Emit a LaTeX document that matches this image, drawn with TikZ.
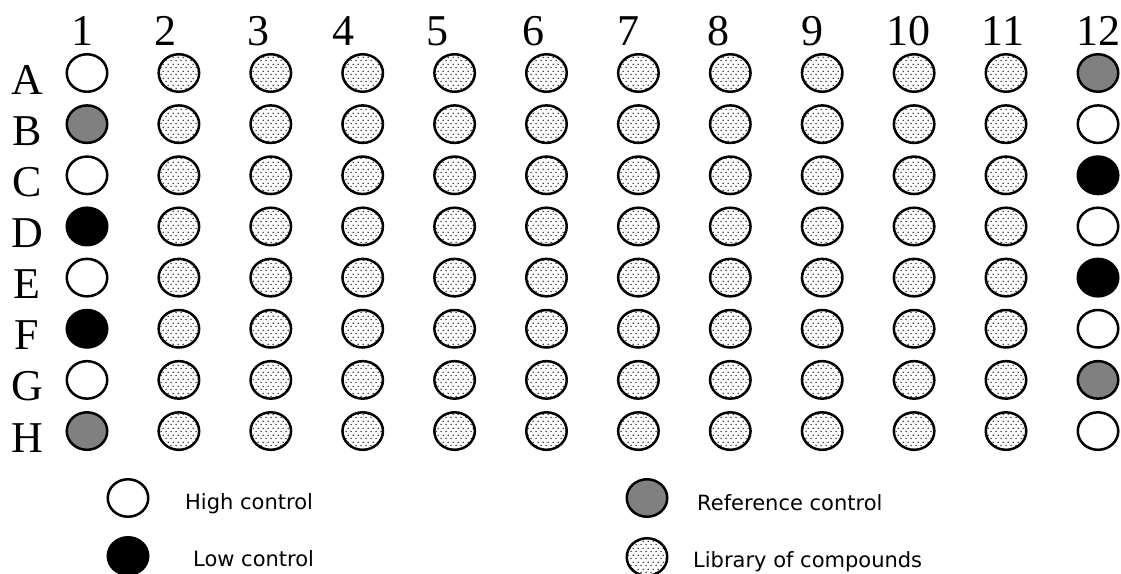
\documentclass[tikz,border=0pt]{standalone}
\usepackage{fontspec}
\setmainfont{Liberation Serif}
\newfontfamily\legendfont{DejaVu Sans}
\usetikzlibrary{shapes.geometric,patterns.meta}
\definecolor{refgray}{RGB}{128,128,128}
\definecolor{dotgray}{RGB}{50,50,50}
\tikzdeclarepattern{
  name=welldots,
  type=uncolored,
  bottom left={(0pt,0pt)},
  top right={(5pt,7pt)},
  tile size={(5pt,7pt)},
  code={
    \fill (1.25pt,1.75pt) circle (0.9pt);
    \fill (3.75pt,5.25pt) circle (0.9pt);
  }
}
\begin{document}
\begin{tikzpicture}[x=1pt,y=-1pt,
  well/.style={ellipse,draw=black,line width=2.5pt,minimum width=40.5pt,minimum height=37.5pt,inner sep=0pt},
  hi/.style={well,fill=white},
  lo/.style={well,fill=black},
  refc/.style={well,fill=refgray},
  lib/.style={well,pattern={welldots},pattern color=dotgray},
  headlbl/.style={font=\fontsize{44}{44}\selectfont,anchor=base,inner sep=0pt},
  legtxt/.style={font=\legendfont\fontsize{21}{21}\selectfont,anchor=base west,inner sep=0pt}
]
\useasboundingbox (0,0) rectangle (1121,573);
% column numbers
\foreach \c/\x in {1/82,2/165,3/258,4/343,5/437,6/533,7/628,8/718,9/812,10/908,11/1003,12/1098}
  \node[headlbl] (col\c) at (\x,45) {\c};
% rows
\foreach \r/\s/\t [count=\i from 0] in {A/hi/refc,B/refc/hi,C/hi/lo,D/lo/hi,E/hi/lo,F/lo/hi,G/hi/refc,H/refc/hi}{
  \pgfmathsetmacro{\yy}{73+51.15*\i}
  \node[headlbl] (row\r) at (27,\yy+21) {\r};
  \node[\s] (w\r1) at (87,\yy) {};
  \foreach \c in {2,...,11}{
    \pgfmathsetmacro{\xx}{87+91.9*(\c-1)}
    \node[lib] (w\r\c) at (\xx,\yy) {};
  }
  \node[\t] (w\r12) at (1098,\yy) {};
}
% legend
\node[hi] (lghi) at (128,498) {};
\node[lo] (lglo) at (128,556) {};
\node[refc] (lgref) at (647,498) {};
\node[lib] (lglib) at (647,557) {};
\node[legtxt] (thi) at (185,509) {High control};
\node[legtxt] (tlo) at (193,566) {Low control};
\node[legtxt] (tref) at (697,510) {Reference control};
\node[legtxt] (tlib) at (693,567) {Library of compounds};
\end{tikzpicture}
\end{document}
